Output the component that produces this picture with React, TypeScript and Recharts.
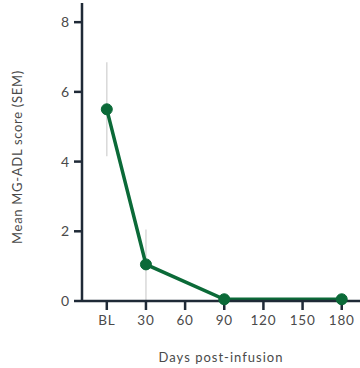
import { CartesianGrid, ErrorBar, Line, LineChart, XAxis, YAxis } from "recharts";

const days = [0, 30, 90, 180];
const meanScore = [5.5, 1.05, 0.05, 0.05];
const semLower = [1.35, 1.05, 0, 0];
const semUpper = [1.35, 1.0, 0, 0];
const xTicks = [0, 30, 60, 90, 120, 150, 180];
const yTicks = [0, 2, 4, 6, 8];

const data = days.map((day, i) => ({
  day,
  score: meanScore[i],
  sem: [semLower[i], semUpper[i]],
}));

const axisColor = "#1f2a37";
const lineColor = "#0b6a38";
const textColor = "#4a4a4a";
const font = "Lato, 'Noto Sans', sans-serif";

export default function App() {
  return (
    <div style={{ position: "absolute", left: 0, top: 0, width: 360, height: 368, background: "#fff" }}>
      <LineChart width={360} height={368} data={data} margin={{ top: 3, right: 0, bottom: 0, left: 0 }}>
        <CartesianGrid stroke="none" />
        <XAxis
          dataKey="day"
          type="number"
          domain={[-19, 194]}
          ticks={xTicks}
          tickFormatter={(v: number) => (v === 0 ? "BL" : String(v))}
          stroke={axisColor}
          strokeWidth={2.5}
          tickSize={9}
          tickMargin={5}
          height={67}
          tick={{ fill: textColor, fontSize: 13.5, fontFamily: font, letterSpacing: 0.8 }}
          label={{ value: "Days post-infusion", position: "insideBottom", offset: 6, fill: textColor, fontSize: 13, fontFamily: font, letterSpacing: 1 }}
        />
        <YAxis
          type="number"
          domain={[0, 8.55]}
          ticks={yTicks}
          stroke={axisColor}
          strokeWidth={2.5}
          tickSize={8}
          tickMargin={5}
          width={82}
          tick={{ fill: textColor, fontSize: 14, fontFamily: font }}
          label={{ value: "Mean MG-ADL score (SEM)", angle: -90, position: "insideLeft", dx: 12, dy: 5, fill: textColor, fontSize: 13, fontFamily: font, letterSpacing: 0.7, style: { textAnchor: "middle" } }}
        />
        <Line dataKey="score" stroke="none" dot={false} activeDot={false} isAnimationActive={false}>
          <ErrorBar dataKey="sem" width={0} stroke="#d9d9d9" strokeWidth={1.5} direction="y" />
        </Line>
        <Line
          dataKey="score"
          stroke={lineColor}
          strokeWidth={3.5}
          dot={{ r: 5.5, fill: lineColor, stroke: lineColor, strokeWidth: 1 }}
          activeDot={false}
          isAnimationActive={false}
        />
      </LineChart>
    </div>
  );
}
